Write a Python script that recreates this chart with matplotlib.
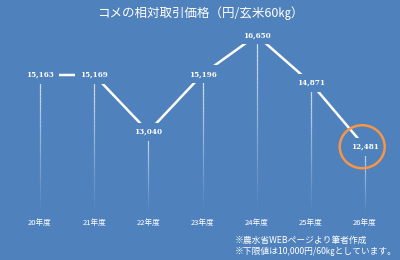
import matplotlib
matplotlib.use("Agg")
import matplotlib.pyplot as plt
import numpy as np
from matplotlib.collections import LineCollection
from matplotlib.patches import Ellipse

plt.rcParams['font.family'] = ['Noto Sans CJK JP', 'DejaVu Sans']

categories = ["20年度", "21年度", "22年度", "23年度", "24年度", "25年度", "26年度"]
prices = [15163, 15169, 13040, 15196, 16650, 14871, 12481]
title = "コメの相対取引価格（円/玄米60㎏）"
notes = ["※農水省WEBページより筆者作成", "※下限値は10,000円/60㎏としています。"]
ymin, ymax = 10000, 17000

bg = "#4F81BD"
fig = plt.figure(figsize=(4, 2.6), dpi=100, facecolor=bg)
ax = fig.add_axes([13/400, 47/260, 379/400, 187/260])
ax.set_facecolor(bg)
ax.set_xlim(-0.5, len(categories) - 0.5)
ax.set_ylim(ymin, ymax)
for s in ax.spines.values():
    s.set_visible(False)
ax.set_yticks([])
x = np.arange(len(categories))
ax.set_xticks(x)
ax.set_xticklabels(categories, color="white", fontsize=5.5)
ax.tick_params(axis="x", length=0, pad=4)

# fading drop lines
n = 40
segs, cols = [], []
for xi, v in zip(x, prices):
    ys = np.linspace(v, ymin, n + 1)
    for k in range(n):
        segs.append([(xi, ys[k]), (xi, ys[k + 1])])
        a = 0.8 * (1 - k / n) ** 1.1
        cols.append((1, 1, 1, a))
ax.add_collection(LineCollection(segs, colors=cols, linewidths=0.9, zorder=1))

ax.plot(x, prices, color="white", lw=1.8, zorder=2, solid_capstyle="butt")

for xi, v in zip(x, prices):
    ax.text(xi, v, f"{v:,}", color="white", fontsize=5.2, fontweight="bold",
            ha="center", va="center", zorder=3,
            bbox=dict(boxstyle="square,pad=0.7", fc=bg, ec="none"),
            family=["DejaVu Serif"])

# orange circle around last point
px_per_x = 379 / len(categories)
px_per_y = 187 / (ymax - ymin)
ax.add_patch(Ellipse((x[-1] - 0.05, prices[-1]), 45 / px_per_x, 43 / px_per_y,
                     fill=False, ec="#F79646", lw=1.8, zorder=4, clip_on=False))

fig.text(0.5, 1 - 13/260, title, color="white", fontsize=9, ha="center", va="center")
fig.text(235/400, 1 - 240/260, notes[0], color="white", fontsize=6.3, ha="left", va="center")
fig.text(235/400, 1 - 251/260, notes[1], color="white", fontsize=6.3, ha="left", va="center")

fig.savefig("out.png", dpi=100, facecolor=bg)
